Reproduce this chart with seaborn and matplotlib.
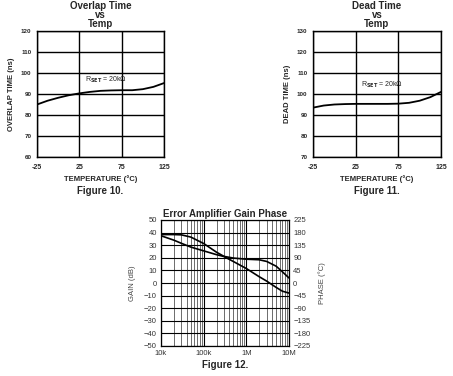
import matplotlib
matplotlib.use("Agg")
import matplotlib.pyplot as plt
import seaborn as sns
import numpy as np
import pandas as pd
from matplotlib.ticker import LogLocator, FixedLocator, FixedFormatter, NullFormatter

# ---- data ----
temp = [-25, -12.5, 0, 12.5, 25, 37.5, 50, 62.5, 75, 87.5, 100, 112.5, 125]
overlap_ns = [85.0, 86.8, 88.2, 89.4, 90.3, 91.0, 91.5, 91.7, 91.8, 91.8, 92.3, 93.4, 95.2]
dead_ns = [93.5, 94.5, 95.0, 95.2, 95.3, 95.3, 95.3, 95.3, 95.4, 95.8, 96.8, 98.5, 101.0]
temp_ticks = [-25, 25, 75, 125]
overlap_ticks = [60, 70, 80, 90, 100, 110, 120]
dead_ticks = [70, 80, 90, 100, 110, 120, 130]

freq = [1e4, 2e4, 3e4, 5e4, 1e5, 2e5, 3e5, 5e5, 1e6, 2e6, 3e6, 5e6, 7e6, 1e7]
gain_db = [37.5, 34, 31.5, 28.5, 25.5, 22.5, 21, 17, 11.5, 5, 1.5, -3.5, -6.5, -8]
phase_deg = [173, 173, 172, 164, 141, 110, 95, 89, 85, 83, 77, 60, 40, 18]
gain_ticks = [-50, -40, -30, -20, -10, 0, 10, 20, 30, 40, 50]
phase_ticks = [-225, -180, -135, -90, -45, 0, 45, 90, 135, 180, 225]
freq_ticks = [1e4, 1e5, 1e6, 1e7]
freq_labels = ["10k", "100k", "1M", "10M"]

sns.set_theme(style="white")
plt.rcParams['font.family'] = ['Liberation Sans', 'DejaVu Sans']

fig = plt.figure(figsize=(4.53, 3.76), dpi=100)
W, H = 453.0, 376.0

def ax_at(x0, y0, x1, y1):
    return fig.add_axes([x0 / W, 1 - y1 / H, (x1 - x0) / W, (y1 - y0) / H])

def temp_panel(ax, vals, yticks, ylabel, title, figlabel, txt_xy):
    df = pd.DataFrame({"t": temp, "v": vals})
    sns.lineplot(data=df, x="t", y="v", ax=ax, color="black", lw=1.3)
    ax.set_xlim(-25, 125)
    ax.set_ylim(yticks[0], yticks[-1])
    ax.set_xticks(temp_ticks)
    ax.set_yticks(yticks)
    ax.set_xticklabels([str(t) for t in temp_ticks], fontsize=5, fontweight='bold')
    ax.set_yticklabels([str(t) for t in yticks], fontsize=4.5, fontweight='bold')
    ax.tick_params(axis='x', length=0, pad=5)
    ax.tick_params(axis='y', length=0, pad=4)
    ax.grid(True, color='black', lw=1.0)
    for s in ax.spines.values():
        s.set_color('black'); s.set_linewidth(1.0)
    ax.set_xlabel("TEMPERATURE (°C)", fontsize=5.5, fontweight='bold', labelpad=3)
    ax.set_ylabel(ylabel, fontsize=5.5, fontweight='bold', labelpad=4)
    ax.set_title(title, fontsize=7, fontweight='bold', pad=3, linespacing=0.85)
    ax.text(0.5, -0.27, figlabel, transform=ax.transAxes, ha='center', va='center',
            fontsize=7, fontweight='bold')
    ax.text(txt_xy[0], txt_xy[1], r"R$_{\mathbf{SET}}$ = 20k$\Omega$", fontsize=5,
            ha='center', va='center')

ax1 = ax_at(37, 31, 164, 157)
temp_panel(ax1, overlap_ns, overlap_ticks, "OVERLAP TIME (ns)",
           "Overlap Time\nvs\nTemp", "Figure 10.", (56, 96.8))

ax2 = ax_at(313, 31, 441, 157)
temp_panel(ax2, dead_ns, dead_ticks, "DEAD TIME (ns)",
           "Dead Time\nvs\nTemp", "Figure 11.", (56, 104.3))

# ---- Figure 12 ----
ax3 = ax_at(161, 220, 289, 346)
ax3.set_xscale('log')
ax4 = ax3.twinx()

dfg = pd.DataFrame({"f": freq, "g": gain_db})
sns.lineplot(data=dfg, x="f", y="g", ax=ax3, color="black", lw=1.2)
dfp = pd.DataFrame({"f": freq, "p": phase_deg})
sns.lineplot(data=dfp, x="f", y="p", ax=ax4, color="black", lw=1.2)

ax3.set_ylim(-50, 50)
ax3.set_yticks(gain_ticks)
ax3.set_yticklabels([str(t).replace('-', '\u2212') for t in gain_ticks], fontsize=5.5, color='#333333')
ax3.set_ylabel("GAIN (dB)", fontsize=5.5, color='#444444', labelpad=6)
for s in ax3.spines.values():
    s.set_color('black'); s.set_linewidth(0.9)
ax3.set_title("Error Amplifier Gain Phase", fontsize=7, fontweight='bold', pad=2)

ax4.set_ylim(-225, 225)
ax4.set_yticks(phase_ticks)
ax4.set_yticklabels([str(t).replace('-', '\u2212') for t in phase_ticks], fontsize=5.5, color='#333333')
ax4.tick_params(length=0, pad=3)
ax4.set_ylabel("PHASE (°C)", fontsize=5.5, color='#444444', labelpad=6)
ax4.grid(False)
for s in ax4.spines.values():
    s.set_visible(False)

# shared x axis formatting last
ax3.set_xlim(1e4, 1e7)
ax3.xaxis.set_major_locator(FixedLocator(freq_ticks))
ax3.xaxis.set_major_formatter(FixedFormatter(freq_labels))
ax3.xaxis.set_minor_locator(LogLocator(base=10, subs=np.arange(2, 10)))
ax3.xaxis.set_minor_formatter(NullFormatter())
ax3.set_xlabel("")
ax4.set_xlabel("")
ax3.grid(True, which='major', color='black', lw=0.8)
ax3.grid(True, which='minor', axis='x', color='#555555', lw=0.6)
ax3.tick_params(which='both', length=0, pad=3)
ax3.tick_params(axis='x', labelsize=5.5, labelcolor='#333333')

ax3.text(0.5, -0.15, "Figure 12.", transform=ax3.transAxes, ha='center', va='center',
         fontsize=7, fontweight='bold')

fig.savefig("out.png", dpi=100)
